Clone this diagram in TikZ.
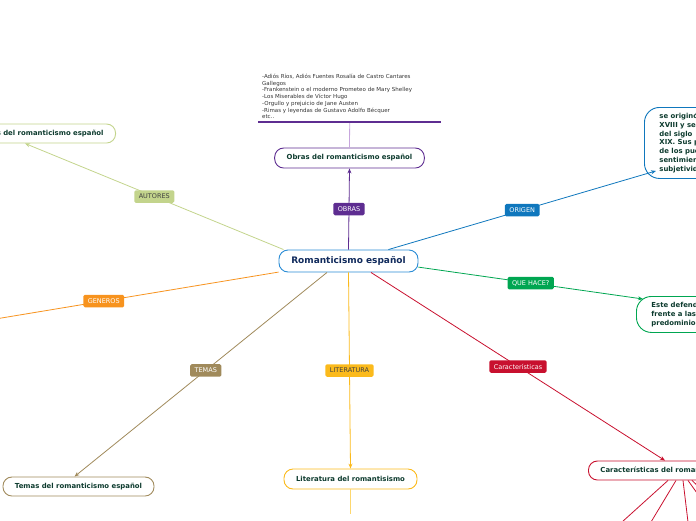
\documentclass[tikz,border=0pt]{standalone}
\usepackage{fontspec}
\setmainfont{DejaVu Sans}
\usetikzlibrary{arrows.meta}
\definecolor{raizc}{HTML}{2A8CD5}
\definecolor{navy}{HTML}{102A5C}
\definecolor{txt}{HTML}{0D3B2E}
\definecolor{obrasc}{HTML}{5E2D91}
\definecolor{obrasl}{HTML}{C7A6DD}
\definecolor{autoresc}{HTML}{C3D48C}
\definecolor{genc}{HTML}{F7931E}
\definecolor{temasc}{HTML}{A08A5B}
\definecolor{litc}{HTML}{FBBA1C}
\definecolor{litl}{HTML}{FDD76E}
\definecolor{carc}{HTML}{C8102E}
\definecolor{origc}{HTML}{0F77BD}
\definecolor{quec}{HTML}{00A651}
\tikzset{
 tema/.style={draw, line width=0.9pt, rounded corners=9pt, fill=white,
  minimum height=20pt, inner xsep=12pt,
  font=\bfseries\fontsize{6.9}{8}\selectfont, text=txt},
 etiq/.style={rounded corners=1.5pt, inner xsep=4.5pt, inner ysep=0pt,
  minimum height=12.5pt, font=\fontsize{6.5}{7}\selectfont, text=white},
 rama/.style={line width=0.8pt, -{Stealth[length=5pt,width=4pt]}}
}
\begin{document}
\begin{tikzpicture}[x=1pt,y=-1pt]
\useasboundingbox (0,0) rectangle (696,520);
\clip (0,0) rectangle (696,520);
% nodos
\node[tema, draw=raizc, minimum width=139pt, minimum height=22pt,
 font=\bfseries\fontsize{9}{10}\selectfont, text=navy] (raiz) at (348.5,261)
 {Romanticismo español};
\node[tema, draw=obrasc, minimum width=149pt] (obras) at (349.5,158)
 {Obras del romanticismo español};
\node[anchor=south west, text width=175pt, inner xsep=4pt, inner ysep=3pt,
 align=left, font=\fontsize{5.5}{6.7}\selectfont, text=black!80] (lista) at (258,122)
 {-Adiós Ríos, Adiós Fuentes Rosalía de Castro Cantares\\
 Gallegos\\
 -Frankenstein o el moderno Prometeo de Mary Shelley\\
 -Los Miserables de Víctor Hugo\\
 -Orgullo y prejuicio de Jane Austen\\
 -Rimas y leyendas de Gustavo Adolfo Bécquer\\
 etc..};
\node[tema, draw=autoresc, anchor=east, minimum height=19pt] (autores) at (116,133.5)
 {Autores del romanticismo español};
\node[tema, draw=temasc, minimum width=151pt, minimum height=19pt] (temas) at (78.5,486.5)
 {Temas del romanticismo español};
\node[tema, draw=litc, minimum width=133pt] (literatura) at (350.5,479)
 {Literatura del romantisismo};
\node[tema, draw=carc, anchor=west, minimum height=19pt] (carac) at (588,470.5)
 {Características del romanticismo español};
\node[tema, draw=origc, anchor=north west, rounded corners=15pt, align=left,
 inner xsep=15pt, minimum height=71pt, font=\bfseries\fontsize{6.9}{8.7}\selectfont]
 (origen) at (644,107)
 {se originó a finales del siglo\\
 XVIII y se desarrolló a lo largo\\
 del siglo\\
 XIX. Sus principales rasgos\\
 de los pueblos y sus\\
 sentimientos y la\\
 subjetividad.};
\node[tema, draw=quec, anchor=north west, rounded corners=15pt, align=left,
 inner xsep=15pt, minimum height=36pt, font=\bfseries\fontsize{6.9}{9}\selectfont]
 (quehace) at (636,296)
 {Este defendía la libertad\\
 frente a las normas y el\\
 predominio del sentimiento};
\coordinate (generos) at (-71,330);
\coordinate (litabajo) at (350.5,514);
% ramas
\draw[rama, obrasc] (raiz.north) -- node[etiq, fill=obrasc] {OBRAS} (obras.south);
\draw[obrasl, line width=0.8pt] (obras.north) -- (lista.south);
\draw[obrasc, line width=1.3pt] (lista.south west) -- (lista.south east);
\draw[rama, autoresc] (raiz.170) -- node[etiq, fill=autoresc, text=black!75] {AUTORES}
 ([xshift=-91pt]autores.south east);
\draw[rama, genc] (raiz.189.5) -- node[etiq, fill=genc] {GENEROS} (generos);
\draw[rama, temasc] (raiz.208) -- node[etiq, fill=temasc, pos=.48] {TEMAS}
 ([xshift=-4pt]temas.north);
\draw[rama, litc] (raiz.south) -- node[etiq, fill=litc, text=black!75] {LITERATURA}
 (literatura.north);
\draw[litl, line width=0.8pt] (literatura.south) -- (litabajo);
\draw[rama, carc] (raiz.333) -- node[etiq, fill=carc] {Características}
 ([xshift=77pt]carac.north west);
\draw[rama, origc] (raiz.16) -- node[etiq, fill=origc] {ORIGEN}
 ([xshift=12pt,yshift=8pt]origen.south west);
\draw[rama, quec] (raiz.355) -- node[etiq, fill=quec] {QUE HACE?}
 ([xshift=7pt,yshift=-3pt]quehace.north west);
\foreach \dx/\ex/\ey in {80/622/522, 88/651/522, 95/688/522, 100/702/500, 104/702/490}
 \draw[carc, line width=0.8pt] ([xshift=\dx pt]carac.south west) -- (\ex,\ey);
\end{tikzpicture}
\end{document}
